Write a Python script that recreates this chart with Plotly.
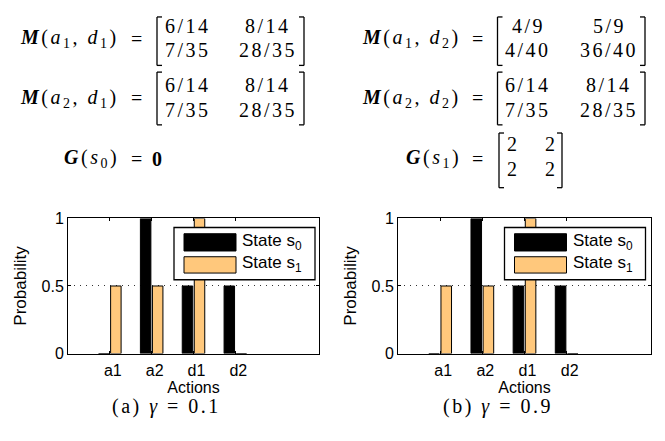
import plotly.graph_objects as go

# The page body adds an 8px margin (plus a few px below the plot); the figure
# is sized so the whole page fits the 665x441 window, and positions are given
# in page pixels.
PAGE_OFF = 8
W, H = 665 - 2 * PAGE_OFF, 441 - 25

# ---------------- data ----------------
actions = ["a1", "a2", "d1", "d2"]
action_pos = [1, 2, 3, 4]
prob_s0_g01 = [0, 1, 0.5, 0.5]
prob_s1_g01 = [0.5, 0.5, 1, 0]
prob_s0_g09 = [0, 1, 0.5, 0.5]
prob_s1_g09 = [0.5, 0.5, 1, 0]
y_ticks = [0, 0.5, 1]
y_ticktext = ["0", "0.5", "1"]
series_names = ["State s<sub>0</sub>", "State s<sub>1</sub>"]
captions = ["(a) <i>γ</i> = 0.1", "(b) <i>γ</i> = 0.9"]

M_a1d1 = [["6/14", "8/14"], ["7/35", "28/35"]]
M_a2d1 = [["6/14", "8/14"], ["7/35", "28/35"]]
M_a1d2 = [["4/9", "5/9"], ["4/40", "36/40"]]
M_a2d2 = [["6/14", "8/14"], ["7/35", "28/35"]]
G_s1 = [["2", "2"], ["2", "2"]]

BLACK = "#000000"
ORANGE = "#ffc87c"


def X(px):
    return (px - PAGE_OFF) / W


def Y(py):
    return 1 - (py - PAGE_OFF) / H


SERIF = "Liberation Serif, Times New Roman, Tinos, serif"
SANS = "Liberation Sans, Arial, Helvetica, sans-serif"
MSIZE = 20
LS = 2.5  # letter spacing for math text


def mt(s, ls=LS):
    return '<span style="letter-spacing:%spx">%s</span>' % (ls, s)


annotations = []
shapes = []


def ann(text, x, y, xanchor="center", size=MSIZE, family=SERIF):
    annotations.append(dict(text=text, x=X(x), y=Y(y), xref="paper", yref="paper",
                            showarrow=False, xanchor=xanchor, yanchor="middle",
                            font=dict(family=family, size=size, color="black")))


def bracket(x0, x1, y0, y1, serif=5):
    for (xa, xb) in [(x0, x0 + serif), (x1, x1 - serif)]:
        shapes.append(dict(type="line", xref="paper", yref="paper",
                           x0=X(xa), x1=X(xa), y0=Y(y0), y1=Y(y1),
                           line=dict(color="black", width=1.3)))
        for yy in (y0, y1):
            shapes.append(dict(type="line", xref="paper", yref="paper",
                               x0=X(xa), x1=X(xb), y0=Y(yy), y1=Y(yy),
                               line=dict(color="black", width=1.3)))


def matrix(vals, bx0, bx1, by0, by1, cols, rows):
    bracket(bx0, bx1, by0, by1)
    for r, row in enumerate(vals):
        for c, v in enumerate(row):
            ann(mt(v), cols[c] + LS / 2, rows[r])


def lhs(text, right, eq_center, y):
    ann(mt(text), right + LS, y, xanchor="right")
    ann("=", eq_center, y)


# ---------------- math block ----------------
lhs("<b><i>M</i></b>(<i>a</i><sub>1</sub>, <i>d</i><sub>1</sub>)", 118, 136, 31.5)
matrix(M_a1d1, 157, 304, 9, 59.5, [187, 267], [18.5, 43.5])
lhs("<b><i>M</i></b>(<i>a</i><sub>2</sub>, <i>d</i><sub>1</sub>)", 118, 136, 94)
matrix(M_a2d1, 157, 304, 66.5, 121.5, [187, 267], [80, 106])
lhs("<b><i>G</i></b>(<i>s</i><sub>0</sub>)", 118, 136, 157)
ann("<b>0</b>", 157, 157)

lhs("<b><i>M</i></b>(<i>a</i><sub>1</sub>, <i>d</i><sub>2</sub>)", 460, 478, 31.5)
matrix(M_a1d2, 497.5, 645, 9, 59.5, [527, 608], [18.5, 43.5])
lhs("<b><i>M</i></b>(<i>a</i><sub>2</sub>, <i>d</i><sub>2</sub>)", 460, 478, 94)
matrix(M_a2d2, 497.5, 645, 66.5, 121.5, [527, 608], [80, 106])
lhs("<b><i>G</i></b>(<i>s</i><sub>1</sub>)", 460, 478, 157)
matrix(G_s1, 499, 562, 130, 187, [512, 550], [141, 167])

# ---------------- bar charts ----------------
fig = go.Figure()
panels = [
    dict(xa="x", ya="y", s0=prob_s0_g01, s1=prob_s1_g01, dom=(68, 319),
         leg=(174, 315), cap=165, cap_text=captions[0]),
    dict(xa="x2", ya="y2", s0=prob_s0_g09, s1=prob_s1_g09, dom=(398, 651),
         leg=(504.5, 645.5), cap=497, cap_text=captions[1]),
]
for p in panels:
    for vals, col, name in [(p["s0"], BLACK, series_names[0]), (p["s1"], ORANGE, series_names[1])]:
        fig.add_trace(go.Bar(x=action_pos, y=vals, name=name, xaxis=p["xa"], yaxis=p["ya"],
                             marker=dict(color=col, line=dict(color="black", width=1)),
                             showlegend=False))

ax_common = dict(showline=True, linecolor="black", linewidth=1, mirror="ticks",
                 ticks="inside", ticklen=3, tickcolor="black",
                 tickfont=dict(family=SANS, size=16, color="black"), zeroline=False)
y0p, y1p = Y(360), Y(219)
layout_axes = {}
for i, p in enumerate(panels):
    sfx = "" if i == 0 else "2"
    layout_axes["xaxis" + sfx] = dict(ax_common, domain=[X(p["dom"][0]), X(p["dom"][1])],
                                      range=[0, 6], tickvals=action_pos, ticktext=actions,
                                      showgrid=False, anchor="y" + sfx, ticklabelshift=3,
                                      ticklabelstandoff=2,
                                      title=dict(text="Actions", standoff=0,
                                                 font=dict(family=SANS, size=16, color="black")))
    layout_axes["yaxis" + sfx] = dict(ax_common, domain=[y0p, y1p], range=[0, 1],
                                      tickvals=y_ticks, ticktext=y_ticktext,
                                      showgrid=True, gridcolor="#333333", griddash="1px,5px",
                                      gridwidth=1, anchor="x" + sfx,
                                      title=dict(text="Probability", standoff=10,
                                                 font=dict(family=SANS, size=17, color="black")))
    # legend box
    lx0, lx1 = p["leg"]
    shapes.append(dict(type="rect", xref="paper", yref="paper", layer="above",
                       x0=X(lx0), x1=X(lx1), y0=Y(283), y1=Y(228.5),
                       fillcolor="white", line=dict(color="black", width=1.3)))
    for (c, yt, yb, name, ty) in [(BLACK, 235, 253, series_names[0], 243.5),
                                  (ORANGE, 259, 276, series_names[1], 266.5)]:
        shapes.append(dict(type="rect", xref="paper", yref="paper", layer="above",
                           x0=X(lx0 + 10), x1=X(lx0 + 62), y0=Y(yb), y1=Y(yt),
                           fillcolor=c, line=dict(color="black", width=1)))
        annotations.append(dict(text=name,
                                x=X(lx0 + 66), y=Y(ty), xref="paper", yref="paper",
                                showarrow=False, xanchor="left", yanchor="middle",
                                font=dict(family=SANS, size=17, color="black")))
    ann(mt(p["cap_text"]), p["cap"] + LS / 2, 415)

fig.update_layout(
    width=W, height=H, autosize=False,
    margin=dict(l=0, r=0, t=0, b=0),
    paper_bgcolor="white", plot_bgcolor="white",
    barmode="group", bargap=0.424, bargroupgap=0.13,
    showlegend=False,
    annotations=annotations, shapes=shapes,
    **layout_axes,
)

fig.write_html("out.html")
